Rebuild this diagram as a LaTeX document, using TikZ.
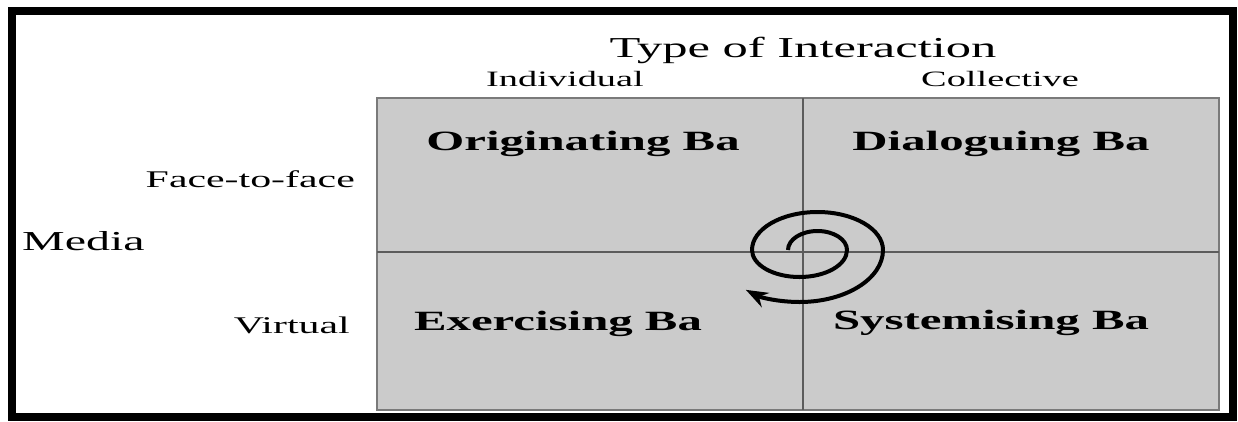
\documentclass[tikz,border=0pt]{standalone}
\usepackage{fontspec}
\setmainfont{Liberation Serif}
\usepackage{graphicx}
\usetikzlibrary{arrows.meta}
\definecolor{panel}{HTML}{CBCBCB}
\definecolor{rule}{HTML}{5C5C5C}
\definecolor{edge}{HTML}{7A7A7A}
\newcommand{\wide}[1]{\scalebox{1.75}[1]{#1}}
\tikzset{
  lbl/.style={inner sep=0pt,anchor=base},
  heading/.style={lbl,font=\fontsize{29}{32}\selectfont},
  column/.style={lbl,font=\fontsize{22}{24}\selectfont},
  row/.style={lbl,anchor=base east,font=\fontsize{24}{26}\selectfont},
  ba/.style={lbl,font=\fontsize{28}{30}\selectfont\bfseries},
  spiral/.style={line width=4bp,-{Stealth[length=22bp,width=16bp]}}
}
\begin{document}
\begin{tikzpicture}[x=1bp,y=-1bp]
\useasboundingbox (0,0) rectangle (1238,421);
\draw[line width=8bp] (12,11) rectangle (1233,417);

\fill[panel] (377,98) rectangle (1219,410);
\draw[edge,line width=2bp] (377,98) rectangle (1219,410);
\draw[rule,line width=1.6bp] (803,98) -- (803,410);
\draw[rule,line width=1.6bp] (377,252) -- (1219,252);

\node[heading] (title) at (803,57) {\wide{Type of Interaction}};
\node[column] (individual) at (565,86) {\wide{Individual}};
\node[column] (collective) at (1000,86) {\wide{Collective}};
\node[row] (facetoface) at (355,187) {\wide{Face-to-face}};
\node[lbl,anchor=base west,font=\fontsize{27.5}{30}\selectfont] (media) at (22,250) {\wide{Media}};
\node[row] (virtual) at (350,333) {\wide{Virtual}};

\node[ba] (originating) at (583,150) {\wide{Originating Ba}};
\node[ba] (dialoguing) at (1001,150) {\wide{Dialoguing Ba}};
\node[ba] (exercising) at (558,330) {\wide{Exercising Ba}};
\node[ba] (systemising) at (991,329) {\wide{Systemising Ba}};

\draw[spiral] (788,250)
  arc[start angle=180,end angle=360,x radius=29.5,y radius=19]
  arc[start angle=0,end angle=180,x radius=47.5,y radius=27]
  arc[start angle=180,end angle=360,x radius=65.5,y radius=38]
  arc[start angle=0,end angle=130,x radius=83.5,y radius=52];
\end{tikzpicture}
\end{document}
